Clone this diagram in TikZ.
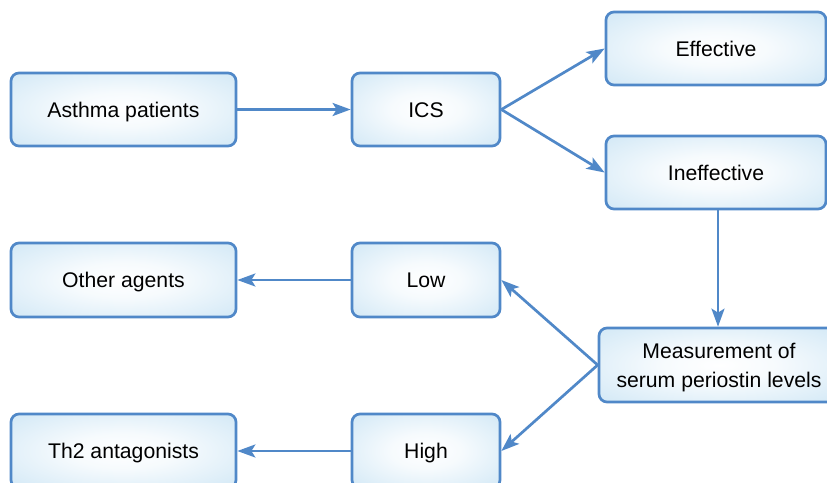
\documentclass[tikz,border=0pt]{standalone}
\usepackage{fontspec}
\setmainfont{Liberation Sans}
\usetikzlibrary{arrows.meta,shadings}
\definecolor{boxblue}{RGB}{196,225,243}
\definecolor{edgeblue}{RGB}{80,136,200}
\pgfdeclareradialshading{boxshade}{\pgfpoint{0bp}{0bp}}{color(0bp)=(white); color(12bp)=(white!85!boxblue); color(45bp)=(boxblue); color(100bp)=(boxblue)}
\tikzset{
  box/.style={draw=edgeblue, line width=2.7pt, rounded corners=8pt, shading=boxshade,
    align=center, font=\fontsize{21.2}{29}\selectfont, inner sep=0pt,
    text height=15.2pt, text depth=0pt},
  link/.style={draw=edgeblue, line width=2.7pt, -{Stealth[length=18pt,width=13pt,inset=4pt]}}
}
\begin{document}
\begin{tikzpicture}[x=1pt,y=-1pt]
\useasboundingbox (0,0) rectangle (827,482);
\clip (0,0) rectangle (827,482);
\node[box, minimum width=225pt, minimum height=73pt] (asthma) at (123.5,109.5) {Asthma patients};
\node[box, minimum width=148pt, minimum height=73pt] (ics) at (426,109.5) {ICS};
\node[box, minimum width=220pt, minimum height=73pt] (eff) at (716,48.5) {Effective};
\node[box, minimum width=220pt, minimum height=73pt] (ineff) at (716,172.5) {Ineffective};
\node[box, minimum width=240pt, minimum height=74pt, text height=44.2pt] (meas) at (719,365) {Measurement of\\serum periostin levels};
\node[box, minimum width=148pt, minimum height=74pt] (low) at (426,280) {Low};
\node[box, minimum width=225pt, minimum height=74pt] (other) at (123.5,280) {Other agents};
\node[box, minimum width=148pt, minimum height=74pt] (high) at (426,451) {High};
\node[box, minimum width=225pt, minimum height=74pt] (th2) at (123.5,451) {Th2 antagonists};
\draw[link] (asthma) -- (ics);
\draw[link] (ics.east) -- (eff.west);
\draw[link] (ics.east) -- (ineff.west);
\draw[link] ([xshift=2pt]ineff.south) -- ([xshift=-1pt]meas.north);
\draw[link] (meas.west) -- (low.east);
\draw[link] (meas.west) -- (high.east);
\draw[link] (low) -- (other);
\draw[link] (high) -- (th2);
\end{tikzpicture}
\end{document}
